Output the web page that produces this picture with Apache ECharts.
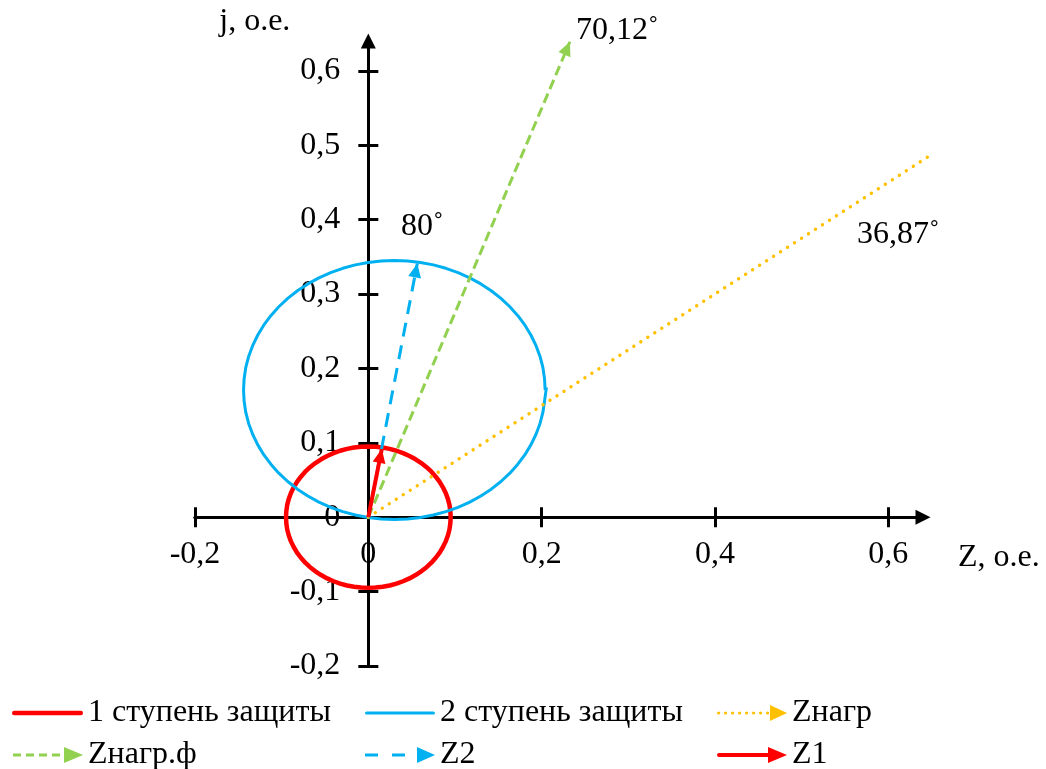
<!DOCTYPE html>
<html>
<head>
<meta charset="utf-8">
<script src="https://cdn.jsdelivr.net/npm/echarts@6/dist/echarts.min.js"></script>
<style>html,body{margin:0;padding:0;background:#fff}#c{width:1046px;height:769px}</style>
</head>
<body>
<div id="c"></div>
<script>
// ---------------- data ----------------
const xTicks = [-0.2, 0, 0.2, 0.4, 0.6];
const xTickLabels = ['-0,2', '0', '0,2', '0,4', '0,6'];
const yTicks = [-0.2, -0.1, 0, 0.1, 0.2, 0.3, 0.4, 0.5, 0.6];
const yTickLabels = ['-0,2', '-0,1', '0', '0,1', '0,2', '0,3', '0,4', '0,5', '0,6'];
const xAxisName = 'Z, о.е.';
const yAxisName = 'j, о.е.';
const seriesNames = ['1 ступень защиты', '2 ступень защиты', 'Zнагр', 'Zнагр.ф', 'Z2', 'Z1'];

// 1st zone characteristic (circle around origin)
const zone1Points = [
  [0.095, 0], [0.0946, 0.0083], [0.0936, 0.0165], [0.0918, 0.0246], [0.0893, 0.0325], [0.0861, 0.0401],
  [0.0823, 0.0475], [0.0778, 0.0545], [0.0728, 0.0611], [0.0672, 0.0672], [0.0611, 0.0728], [0.0545, 0.0778],
  [0.0475, 0.0823], [0.0401, 0.0861], [0.0325, 0.0893], [0.0246, 0.0918], [0.0165, 0.0936], [0.0083, 0.0946],
  [0, 0.095], [-0.0083, 0.0946], [-0.0165, 0.0936], [-0.0246, 0.0918], [-0.0325, 0.0893], [-0.0401, 0.0861],
  [-0.0475, 0.0823], [-0.0545, 0.0778], [-0.0611, 0.0728], [-0.0672, 0.0672], [-0.0728, 0.0611], [-0.0778, 0.0545],
  [-0.0823, 0.0475], [-0.0861, 0.0401], [-0.0893, 0.0325], [-0.0918, 0.0246], [-0.0936, 0.0165], [-0.0946, 0.0083],
  [-0.095, 0], [-0.0946, -0.0083], [-0.0936, -0.0165], [-0.0918, -0.0246], [-0.0893, -0.0325], [-0.0861, -0.0401],
  [-0.0823, -0.0475], [-0.0778, -0.0545], [-0.0728, -0.0611], [-0.0672, -0.0672], [-0.0611, -0.0728], [-0.0545, -0.0778],
  [-0.0475, -0.0823], [-0.0401, -0.0861], [-0.0325, -0.0893], [-0.0246, -0.0918], [-0.0165, -0.0936], [-0.0083, -0.0946],
  [0, -0.095], [0.0083, -0.0946], [0.0165, -0.0936], [0.0246, -0.0918], [0.0325, -0.0893], [0.0401, -0.0861],
  [0.0475, -0.0823], [0.0545, -0.0778], [0.0611, -0.0728], [0.0672, -0.0672], [0.0728, -0.0611], [0.0778, -0.0545],
  [0.0823, -0.0475], [0.0861, -0.0401], [0.0893, -0.0325], [0.0918, -0.0246], [0.0936, -0.0165], [0.0946, -0.0083],
  [0.095, 0], [0.0946, 0.0083]
];
// 2nd zone characteristic (circle through origin)
const zone2Points = [
  [0.2040, 0.1710], [0.2033, 0.1862], [0.2014, 0.2012], [0.1981, 0.2160], [0.1935, 0.2305], [0.1877, 0.2445],
  [0.1807, 0.2580], [0.1725, 0.2708], [0.1633, 0.2828], [0.1530, 0.2940], [0.1418, 0.3043], [0.1298, 0.3135],
  [0.1170, 0.3217], [0.1035, 0.3287], [0.0895, 0.3345], [0.0750, 0.3391], [0.0602, 0.3424], [0.0452, 0.3443],
  [0.0300, 0.3450], [0.0148, 0.3443], [-0.0002, 0.3424], [-0.0150, 0.3391], [-0.0295, 0.3345], [-0.0435, 0.3287],
  [-0.0570, 0.3217], [-0.0698, 0.3135], [-0.0818, 0.3043], [-0.0930, 0.2940], [-0.1033, 0.2828], [-0.1125, 0.2708],
  [-0.1207, 0.2580], [-0.1277, 0.2445], [-0.1335, 0.2305], [-0.1381, 0.2160], [-0.1414, 0.2012], [-0.1433, 0.1862],
  [-0.1440, 0.1710], [-0.1433, 0.1558], [-0.1414, 0.1408], [-0.1381, 0.1260], [-0.1335, 0.1115], [-0.1277, 0.0975],
  [-0.1207, 0.0840], [-0.1125, 0.0712], [-0.1033, 0.0592], [-0.0930, 0.0480], [-0.0818, 0.0377], [-0.0698, 0.0285],
  [-0.0570, 0.0203], [-0.0435, 0.0133], [-0.0295, 0.0075], [-0.0150, 0.0029], [-0.0002, -0.0004], [0.0148, -0.0023],
  [0.0300, -0.0030], [0.0452, -0.0023], [0.0602, -0.0004], [0.0750, 0.0029], [0.0895, 0.0075], [0.1035, 0.0133],
  [0.1170, 0.0203], [0.1298, 0.0285], [0.1418, 0.0377], [0.1530, 0.0480], [0.1633, 0.0592], [0.1725, 0.0712],
  [0.1807, 0.0840], [0.1877, 0.0975], [0.1935, 0.1115], [0.1981, 0.1260], [0.2014, 0.1408], [0.2033, 0.1558],
  [0.2055, 0.1745]
];
// vectors: start and end points
const zLoad = [[0, 0], [0.65, 0.4875]];
const zLoadF = [[0, 0], [0.2326, 0.639]];
const z2Vec = [[0, 0], [0.0565, 0.341]];
const z1Vec = [[0, 0], [0.0155, 0.0915]];
const angleLabels = ['70,12˚', '36,87˚', '80˚'];

// ---------------- styles / layout ----------------
const FONT = 'Liberation Serif';
const FS = 32;
const C_RED = '#FF0000', C_BLUE = '#00B0F0', C_ORANGE = '#FFC000', C_GREEN = '#92D050';

const G = { left: 195, top: 41, width: 728, height: 625 };
const X_MIN = -0.2, X_MAX = 0.64, Y_MIN = -0.2, Y_MAX = 0.64;
// pixel distances used to place the axes through the origin
const zeroFromLeft = G.width * (0 - X_MIN) / (X_MAX - X_MIN);
const zeroFromRight = G.width - zeroFromLeft;
const zeroFromBottom = G.height * (0 - Y_MIN) / (Y_MAX - Y_MIN);
const zeroFromTop = G.height - zeroFromBottom;

function fmt(ticks, labels) {
  return function (v) {
    for (let i = 0; i < ticks.length; i++) if (Math.abs(ticks[i] - v) < 1e-9) return labels[i];
    return '';
  };
}
// arrowhead with its tip at the symbol centre
const ARROW = 'path://M0 0 L6.5 14 L-6.5 14 Z M-14 -14 M14 -14';

function dotsArrow() {
  let p = '';
  for (let i = 0; i < 8; i++) {
    const cx = 1.6 + i * 7;
    p += 'M' + (cx - 1.6) + ' 8 a1.6 1.6 0 1 0 3.2 0 a1.6 1.6 0 1 0 -3.2 0 Z ';
  }
  return 'path://' + p + 'M53 0 L70 8 L53 16 Z';
}
const ICON_RED_LINE = 'path://M2.25 0 H68.75 A2.25 2.25 0 0 1 68.75 4.5 H2.25 A2.25 2.25 0 0 1 2.25 0 Z';
const ICON_BLUE_LINE = 'path://M1.6 0 H68.4 A1.6 1.6 0 0 1 68.4 3.2 H1.6 A1.6 1.6 0 0 1 1.6 0 Z';
const ICON_GREEN = 'path://M0 6.5 H8 V9.5 H0 Z M13 6.5 H21 V9.5 H13 Z M26 6.5 H34 V9.5 H26 Z M39 6.5 H47 V9.5 H39 Z M51 0 L70 8 L51 16 Z';
const ICON_Z2 = 'path://M0 6.5 H13 V9.5 H0 Z M27 6.5 H40 V9.5 H27 Z M52 0 L70 8 L52 16 Z';
const ICON_Z1 = 'path://M2 6 H54 V10 H2 A2 2 0 0 1 2 6 Z M51 0 L70 8 L51 16 Z';

function legendItem(name, icon, color, left, top, w, h) {
  return {
    data: [{ name: name, icon: icon }],
    left: left, top: top, padding: 0,
    itemWidth: w, itemHeight: h, selectedMode: false,
    itemStyle: { color: color, borderWidth: 0 },
    textStyle: { fontSize: FS, fontFamily: FONT, color: '#000' }
  };
}

const axisLineStyle = { color: '#000', width: 3 };
const tickStyle = { color: '#000', width: 3 };
const labelStyle = { fontSize: FS, fontFamily: FONT, color: '#000' };

const option = {
  backgroundColor: '#fff',
  animation: false,
  grid: { left: G.left, top: G.top, width: G.width, height: G.height, containLabel: false, outerBoundsMode: 'none' },
  xAxis: [
    {
      type: 'value', min: X_MIN, max: X_MAX, position: 'bottom', offset: -zeroFromBottom,
      splitLine: { show: false },
      axisLine: { onZero: false, symbol: ['none', 'triangle'], symbolSize: [15, 15], lineStyle: axisLineStyle },
      axisTick: { customValues: xTicks, length: 10, lineStyle: tickStyle },
      axisLabel: Object.assign({ customValues: xTicks, formatter: fmt(xTicks, xTickLabels), margin: 21 }, labelStyle),
      name: xAxisName, nameLocation: 'end', nameGap: 35, nameMoveOverlap: false,
      nameTextStyle: Object.assign({ align: 'left', verticalAlign: 'top', padding: [24, 0, 0, 0] }, labelStyle)
    },
    {
      type: 'value', min: X_MIN, max: X_MAX, position: 'top', offset: -zeroFromTop,
      splitLine: { show: false },
      axisLine: { onZero: false, show: true, lineStyle: axisLineStyle },
      axisTick: { customValues: xTicks, length: 10, lineStyle: tickStyle },
      axisLabel: { show: false }
    }
  ],
  yAxis: [
    {
      type: 'value', min: Y_MIN, max: Y_MAX, position: 'left', offset: -zeroFromLeft,
      splitLine: { show: false },
      axisLine: { onZero: false, symbol: ['none', 'triangle'], symbolSize: [15, 15], lineStyle: axisLineStyle },
      axisTick: { customValues: yTicks, length: 10, lineStyle: tickStyle },
      axisLabel: Object.assign({ customValues: yTicks, formatter: fmt(yTicks, yTickLabels), margin: 28 }, labelStyle),
      name: yAxisName, nameLocation: 'end', nameGap: 19, nameMoveOverlap: false,
      nameTextStyle: Object.assign({ align: 'right', verticalAlign: 'middle', padding: [0, 78, 0, 0] }, labelStyle)
    },
    {
      type: 'value', min: Y_MIN, max: Y_MAX, position: 'right', offset: -zeroFromRight,
      splitLine: { show: false },
      axisLine: { onZero: false, show: true, lineStyle: axisLineStyle },
      axisTick: { customValues: yTicks, length: 10, lineStyle: tickStyle },
      axisLabel: { show: false }
    }
  ],
  legend: [
    legendItem(seriesNames[0], ICON_RED_LINE, C_RED, 12, 697, 71, 4.5),
    legendItem(seriesNames[1], ICON_BLUE_LINE, C_BLUE, 365, 697, 70, 3.2),
    legendItem(seriesNames[2], dotsArrow(), C_ORANGE, 717, 697, 70, 16),
    legendItem(seriesNames[3], ICON_GREEN, C_GREEN, 13, 739, 70, 16),
    legendItem(seriesNames[4], ICON_Z2, C_BLUE, 365, 739, 70, 16),
    legendItem(seriesNames[5], ICON_Z1, C_RED, 717, 739, 70, 16)
  ],
  graphic: [
    { type: 'text', x: 576, y: 31, style: { text: angleLabels[0], fontSize: FS, fontFamily: FONT, fill: '#000', align: 'left', verticalAlign: 'middle' } },
    { type: 'text', x: 857, y: 235, style: { text: angleLabels[1], fontSize: FS, fontFamily: FONT, fill: '#000', align: 'left', verticalAlign: 'middle' } },
    { type: 'text', x: 401, y: 227, style: { text: angleLabels[2], fontSize: FS, fontFamily: FONT, fill: '#000', align: 'left', verticalAlign: 'middle' } }
  ],
  series: [
    {
      name: seriesNames[0], type: 'line', xAxisIndex: 0, yAxisIndex: 0, data: zone1Points,
      symbol: 'none', showSymbol: false, smooth: false, z: 2,
      lineStyle: { color: C_RED, width: 4.5, join: 'round' }, itemStyle: { color: C_RED }
    },
    {
      name: seriesNames[1], type: 'line', xAxisIndex: 0, yAxisIndex: 0, data: zone2Points,
      symbol: 'none', showSymbol: false, smooth: false, z: 3,
      lineStyle: { color: C_BLUE, width: 3, join: 'round' }, itemStyle: { color: C_BLUE }
    },
    {
      name: seriesNames[2], type: 'lines', coordinateSystem: 'cartesian2d', xAxisIndex: 0, yAxisIndex: 0,
      data: [{ coords: zLoad }], symbol: ['none', 'none'], clip: false, z: 4,
      lineStyle: { color: C_ORANGE, width: 3.4, type: [0.01, 8.3], cap: 'round', opacity: 1, curveness: 0 }
    },
    {
      name: seriesNames[3], type: 'lines', coordinateSystem: 'cartesian2d', xAxisIndex: 0, yAxisIndex: 0,
      data: [{ coords: zLoadF }], symbol: ['none', ARROW], symbolSize: 28, clip: false, z: 5,
      lineStyle: { color: C_GREEN, width: 3, type: [10, 5], opacity: 1, curveness: 0 }
    },
    {
      name: seriesNames[4], type: 'lines', coordinateSystem: 'cartesian2d', xAxisIndex: 0, yAxisIndex: 0,
      data: [{ coords: z2Vec }], symbol: ['none', ARROW], symbolSize: 28, clip: false, z: 6,
      lineStyle: { color: C_BLUE, width: 3, type: [14, 9], opacity: 1, curveness: 0 }
    },
    {
      name: seriesNames[5], type: 'lines', coordinateSystem: 'cartesian2d', xAxisIndex: 0, yAxisIndex: 0,
      data: [{ coords: z1Vec }], symbol: ['none', ARROW], symbolSize: 28, clip: false, z: 7,
      lineStyle: { color: C_RED, width: 4, opacity: 1, curveness: 0 }
    }
  ]
};

const chart = echarts.init(document.getElementById('c'), null, { renderer: 'canvas' });
chart.setOption(option);
</script>
</body>
</html>
